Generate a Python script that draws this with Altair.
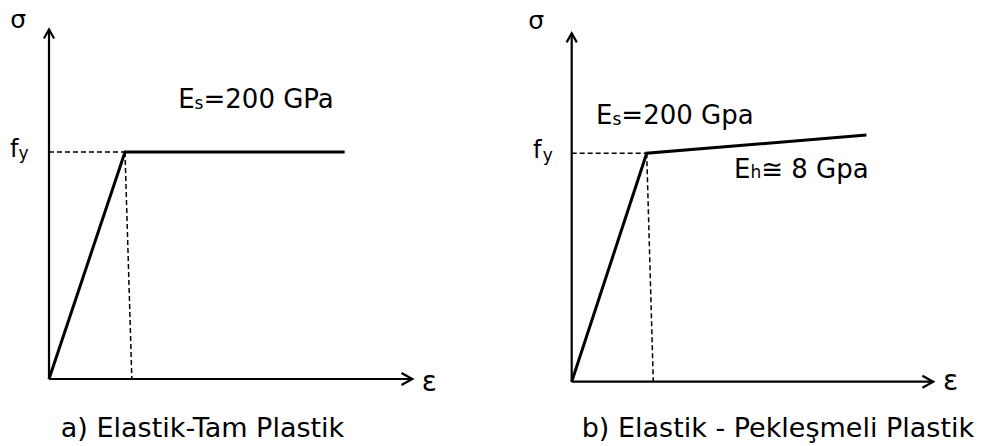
import altair as alt
import pandas as pd

# Normalised strain (eps / eps_y) and stress (sigma / f_y)
curve_a_eps = [0.0, 1.0, 3.89]
curve_a_sig = [0.0, 1.0, 1.0]
curve_b_eps = [0.0, 1.0, 3.93]
curve_b_sig = [0.0, 1.0, 1.08]

# axis extents (x end, y top) and foot of dashed drop line
axis_a = [4.78, 1.54]
axis_b = [4.82, 1.525]
foot_a = 1.09
foot_b = 1.088

# texts
caption_a = "a) Elastik-Tam Plastik"
caption_b = "b) Elastik - Pekleşmeli Plastik"
stress_sym = "σ"
strain_sym = "ε"
fy_main, fy_sub = "f", "y"
es_a = ["E", "s", "=200 GPa"]
es_b = ["E", "s", "=200 Gpa"]
eh_b = ["E", "h", "≅ 8 Gpa"]

FONT = "DejaVu Sans"


def panel(ce, cs, ax, foot, xdom, ydom, left_rows, cap_row):
    sx = alt.Scale(domain=xdom, nice=False, zero=False)
    sy = alt.Scale(domain=ydom, nice=False, zero=False)
    X = alt.X("eps:Q", scale=sx, axis=None)
    Y = alt.Y("sig:Q", scale=sy, axis=None)

    curve = pd.DataFrame({"eps": ce, "sig": cs, "o": list(range(len(ce)))})
    line = alt.Chart(curve).mark_line(color="black", strokeWidth=3).encode(
        x=X, y=Y, order="o:Q")

    axes_df = pd.DataFrame({"eps": [0, 0], "sig": [0, 0],
                            "eps2": [0, ax[0]], "sig2": [ax[1], 0]})
    axes = alt.Chart(axes_df).mark_rule(color="black", strokeWidth=2.2).encode(
        x=X, y=Y, x2="eps2:Q", y2="sig2:Q")

    ye, ys = ce[1], cs[1]
    dash_df = pd.DataFrame({"eps": [0, ye], "sig": [ys, ys],
                            "eps2": [ye, foot], "sig2": [ys, 0]})
    dash = alt.Chart(dash_df).mark_rule(color="black", strokeWidth=1.5,
                                        strokeDash=[5, 3]).encode(
        x=X, y=Y, x2="eps2:Q", y2="sig2:Q")

    up = alt.Chart(pd.DataFrame({"eps": [0], "sig": [ax[1]]})).mark_point(
        shape="M -0.85 1.5 L 0 0 L 0.85 1.5", filled=False, color="black",
        strokeWidth=2.2, size=144, opacity=1).encode(x=X, y=Y)
    right = alt.Chart(pd.DataFrame({"eps": [ax[0]], "sig": [0]})).mark_point(
        shape="M -1.8 -1 L 0 0 L -1.8 1", filled=False, color="black",
        strokeWidth=2.2, size=144, opacity=1).encode(x=X, y=Y)

    tl = pd.DataFrame(left_rows, columns=["t", "eps", "sig", "fs"])
    texts = alt.Chart(tl).mark_text(align="left", baseline="alphabetic",
                                    font=FONT, color="black").encode(
        x=X, y=Y, text="t:N", size=alt.Size("fs:Q", scale=None))

    tc = pd.DataFrame([cap_row], columns=["t", "eps", "sig", "fs"])
    cap = alt.Chart(tc).mark_text(align="center", baseline="alphabetic",
                                  font=FONT, color="black").encode(
        x=X, y=Y, text="t:N", size=alt.Size("fs:Q", scale=None))

    return alt.layer(dash, axes, line, up, right, texts, cap).properties(
        width=492, height=438)


rows_a = [
    (stress_sym, -0.51, 1.546, 25),
    (fy_main, -0.513, 0.979, 24),
    (fy_sub, -0.40, 0.970, 17),
    (es_a[0], 1.70, 1.1925, 26),
    (es_a[1], 1.916, 1.19, 17),
    (es_a[2], 2.033, 1.1925, 26),
    (strain_sym, 4.904, -0.053, 28),
]
rows_b = [
    (stress_sym, -0.58, 1.543, 25),
    (fy_main, -0.516, 0.978, 24),
    (fy_sub, -0.385, 0.966, 17),
    (es_b[0], 0.324, 1.127, 26),
    (es_b[1], 0.543, 1.124, 17),
    (es_b[2], 0.662, 1.127, 26),
    (eh_b[0], 2.164, 0.8905, 26),
    (eh_b[1], 2.383, 0.8905, 17),
    (eh_b[2], 2.527, 0.8905, 26),
    (strain_sym, 4.95, -0.036, 28),
]

pa = panel(curve_a_eps, curve_a_sig, axis_a, foot_a,
           [-0.5395, 5.934], [-0.2952, 1.6344], rows_a,
           (caption_a, 2.02, -0.254, 27))
pb = panel(curve_b_eps, curve_b_sig, axis_b, foot_b,
           [-0.956, 5.604], [-0.2815, 1.636], rows_b,
           (caption_b, 2.75, -0.241, 27))

chart = alt.hconcat(pa, pb, spacing=0).properties(
    padding=0, background="white").configure_view(stroke=None)

chart.save("out.html", embed_options={"renderer": "svg", "actions": False})
